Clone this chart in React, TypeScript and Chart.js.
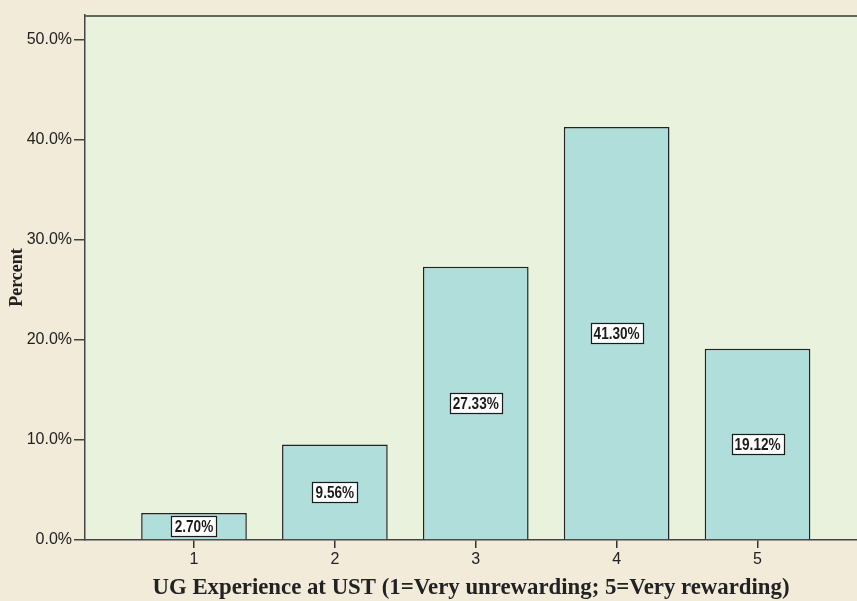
import React, { useEffect, useRef } from "react";
import { Chart, registerables } from "chart.js";

Chart.register(...registerables);

const categories = [1, 2, 3, 4, 5];
const tickLabels = ["1", "2", "3", "4", "5"];
const percentValues = [2.7, 9.56, 27.33, 41.3, 19.12];
const yTicks = [0, 10, 20, 30, 40, 50];
const xTitle = "UG Experience at UST (1=Very unrewarding; 5=Very rewarding)";
const yTitle = "Percent";

const PAGE_BG = "#f2ebda";
const PLOT_BG = "#e9f2dc";
const BAR_FILL = "#b0dedb";
const LINE = "#444444";

const plotBgPlugin = {
  id: "plotBg",
  beforeDraw(chart: any) {
    const { ctx, chartArea, width, height } = chart;
    ctx.save();
    ctx.fillStyle = PAGE_BG;
    ctx.fillRect(0, 0, width, height);
    ctx.fillStyle = PLOT_BG;
    ctx.fillRect(chartArea.left, chartArea.top, chartArea.right - chartArea.left, chartArea.bottom - chartArea.top);
    ctx.restore();
  },
  afterDraw(chart: any) {
    const { ctx, chartArea } = chart;
    ctx.save();
    ctx.strokeStyle = "#666660";
    ctx.lineWidth = 2;
    ctx.beginPath();
    ctx.moveTo(chartArea.left, chartArea.top + 1);
    ctx.lineTo(chartArea.right, chartArea.top + 1);
    ctx.stroke();
    ctx.restore();
  },
};

const barLabelPlugin = {
  id: "barLabels",
  afterDatasetsDraw(chart: any) {
    const { ctx } = chart;
    const meta = chart.getDatasetMeta(0);
    const ds = chart.data.datasets[0];
    const squeeze = 0.8;
    ctx.save();
    ctx.font = "bold 17px 'Liberation Sans', Arial, sans-serif";
    ctx.textAlign = "center";
    ctx.textBaseline = "middle";
    meta.data.forEach((el: any, i: number) => {
      const v = ds.data[i].y;
      const text = v.toFixed(2) + "%";
      const w = Math.round(ctx.measureText(text).width * squeeze + 6);
      const h = 20;
      let cy = (el.y + el.base) / 2;
      if (cy + h / 2 > el.base) cy = el.base - h / 2 + 0.5;
      const x = Math.round(el.x - w / 2) + 0.5;
      const y = Math.round(cy - h / 2) + 0.5;
      ctx.fillStyle = "#ffffff";
      ctx.fillRect(x, y, w, h);
      ctx.strokeStyle = "#1a1a1a";
      ctx.lineWidth = 1.2;
      ctx.strokeRect(x, y, w, h);
      ctx.fillStyle = "#1a1a1a";
      ctx.save();
      ctx.translate(el.x, cy + 1);
      ctx.scale(squeeze, 1);
      ctx.fillText(text, 0, 0);
      ctx.restore();
    });
    ctx.restore();
  },
};

export default function App() {
  const ref = useRef<HTMLCanvasElement | null>(null);

  useEffect(() => {
    document.body.style.margin = "0";
    document.body.style.background = PAGE_BG;
    const canvas = ref.current!;
    const chart = new Chart(canvas, {
      type: "bar",
      data: {
        datasets: [
          {
            data: categories.map((c, i) => ({ x: c, y: percentValues[i] })),
            backgroundColor: BAR_FILL,
            borderColor: "#222222",
            borderWidth: 1.5,
            barPercentage: 0.75,
            categoryPercentage: 1,
          },
        ],
      },
      options: {
        animation: false,
        responsive: false,
        maintainAspectRatio: false,
        layout: { padding: { top: 15, right: 0, left: 0, bottom: 0 } },
        plugins: { legend: { display: false }, tooltip: { enabled: false } },
        scales: {
          x: {
            type: "linear",
            offset: false,
            min: 0.2264,
            max: 5.706,
            afterBuildTicks: (scale: any) => {
              scale.ticks = categories.map((v) => ({ value: v }));
            },
            afterFit: (scale: any) => {
              scale.height = 61;
            },
            grid: {
              offset: false,
              drawOnChartArea: false,
              drawTicks: true,
              tickLength: 8,
              color: "#333",
              lineWidth: 1.5,
            },
            border: { display: true, color: LINE, width: 1.5 },
            ticks: {
              padding: 2,
              color: "#222",
              font: { family: "'Liberation Sans', Arial, sans-serif", size: 16 },
              callback: (v: any) => tickLabels[categories.indexOf(Number(v))] ?? "",
              maxRotation: 0,
            },
            title: {
              display: true,
              text: xTitle,
              color: "#222",
              font: { family: "'Liberation Serif', 'Times New Roman', serif", size: 22.8, weight: "bold" },
              padding: { top: 0, bottom: -1 },
            },
          },
          y: {
            min: 0,
            max: 52.5,
            afterBuildTicks: (scale: any) => {
              scale.ticks = yTicks.map((v) => ({ value: v }));
            },
            afterFit: (scale: any) => {
              scale.width = 85;
            },
            grid: {
              drawOnChartArea: false,
              drawTicks: true,
              tickLength: 11,
              color: "#444",
              lineWidth: 1.5,
            },
            border: { display: true, color: LINE, width: 1.5 },
            ticks: {
              padding: 2,
              color: "#222",
              font: { family: "'Liberation Sans', Arial, sans-serif", size: 16 },
              callback: (v: any) => Number(v).toFixed(1) + "%",
            },
            title: {
              display: true,
              text: yTitle,
              color: "#222",
              font: { family: "'Liberation Serif', 'Times New Roman', serif", size: 18, weight: "bold" },
              padding: { top: 7, bottom: 0 },
            },
          },
        },
      },
      plugins: [plotBgPlugin, barLabelPlugin],
    } as any);
    return () => chart.destroy();
  }, []);

  return (
    <div style={{ width: 857, height: 601 }}>
      <canvas ref={ref} width={857} height={601} style={{ display: "block", width: 857, height: 601 }} />
    </div>
  );
}
